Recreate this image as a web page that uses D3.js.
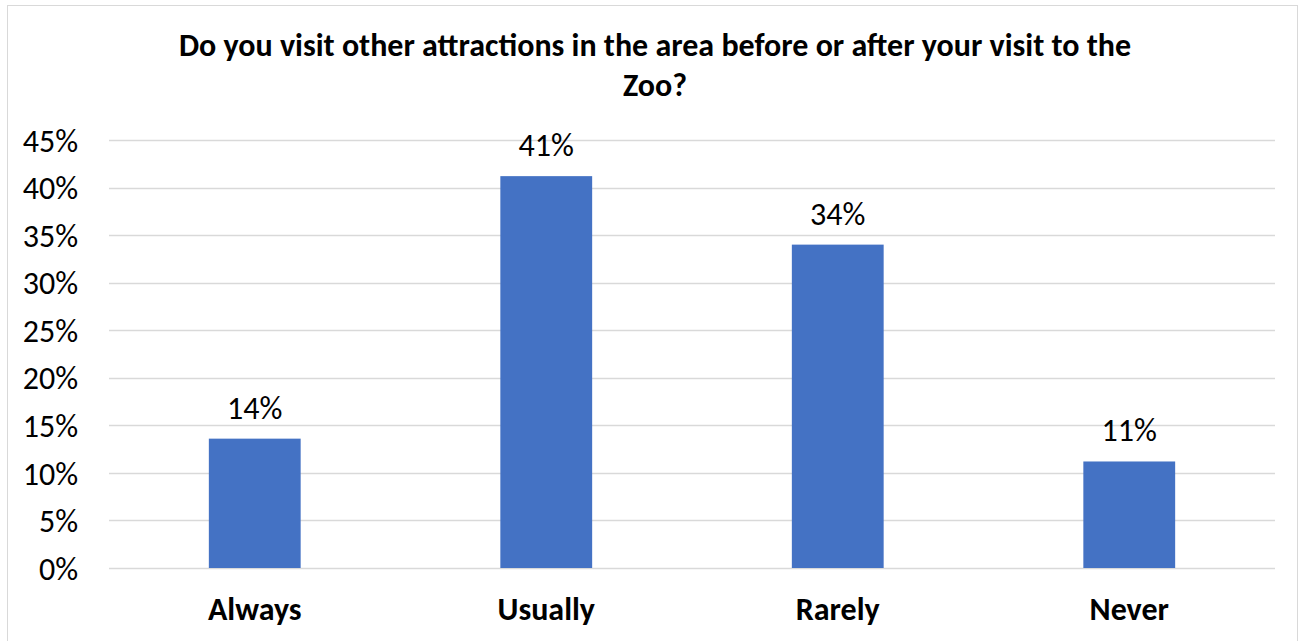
<!DOCTYPE html>
<html>
<head>
<meta charset="utf-8">
<script src="https://cdn.jsdelivr.net/npm/d3@7"></script>
<style>
  html, body { margin: 0; padding: 0; background: #fff; }
  svg { display: block; }
</style>
</head>
<body>
<svg id="chart" width="1304" height="641"></svg>
<script>
const categories = ["Always", "Usually", "Rarely", "Never"];
const values = [0.136, 0.412, 0.340, 0.112];
const tickValues = [0, 0.05, 0.10, 0.15, 0.20, 0.25, 0.30, 0.35, 0.40, 0.45];
const titleLines = ["Do you visit other attractions in the area before or after your visit to the", "Zoo?"];

const W = 1304, H = 641;
const FONT = "Carlito, Calibri, Lato, 'Open Sans', sans-serif";
const FS = 32;
const margin = { left: 109, right: 1275, top: 140, bottom: 568 };

const svg = d3.select("#chart");

svg.append("rect")
  .attr("x", 7.5).attr("y", 5.5)
  .attr("width", 1290).attr("height", 640)
  .attr("fill", "#fff").attr("stroke", "#d9d9d9").attr("stroke-width", 1);

const x = d3.scaleBand()
  .domain(categories)
  .range([margin.left, margin.right])
  .paddingInner(0.685).paddingOuter(0.3425);

const y = d3.scaleLinear()
  .domain([0, 0.45])
  .range([margin.bottom, margin.top]);

// gridlines
svg.append("g")
  .selectAll("line")
  .data(tickValues)
  .join("line")
  .attr("x1", margin.left).attr("x2", margin.right)
  .attr("y1", d => Math.round(y(d)) + 0.5).attr("y2", d => Math.round(y(d)) + 0.5)
  .attr("stroke", "#d9d9d9").attr("stroke-width", 1.5);

// y axis
const yAxis = d3.axisLeft(y).tickValues(tickValues).tickFormat(d3.format(".0%")).tickSize(0).tickPadding(31);
const gy = svg.append("g").attr("transform", `translate(${margin.left},0)`).call(yAxis);
gy.select(".domain").remove();
gy.selectAll("text")
  .attr("font-family", FONT).attr("font-size", FS).attr("fill", "#000")
  .attr("dy", "0.35em");

// x axis
const xAxis = d3.axisBottom(x).tickSize(0).tickPadding(0);
const gx = svg.append("g").attr("transform", `translate(0,${margin.bottom})`).call(xAxis);
gx.select(".domain").remove();
gx.selectAll("text")
  .attr("font-family", FONT).attr("font-size", FS).attr("font-weight", "bold").attr("fill", "#000")
  .attr("y", 52).attr("dy", 0);

// bars
svg.append("g")
  .selectAll("rect")
  .data(values)
  .join("rect")
  .attr("x", (d, i) => x(categories[i]))
  .attr("width", x.bandwidth())
  .attr("y", d => y(d))
  .attr("height", d => y(0) - y(d))
  .attr("fill", "#4472c4");

// data labels
svg.append("g")
  .selectAll("text")
  .data(values)
  .join("text")
  .attr("x", (d, i) => x(categories[i]) + x.bandwidth() / 2)
  .attr("y", d => y(d) - 20)
  .attr("text-anchor", "middle")
  .attr("font-family", FONT).attr("font-size", FS).attr("fill", "#000")
  .text(d => d3.format(".0%")(d));

// title
svg.append("g")
  .selectAll("text")
  .data(titleLines)
  .join("text")
  .attr("x", 655)
  .attr("y", (d, i) => 56 + i * 40)
  .attr("text-anchor", "middle")
  .attr("font-family", FONT).attr("font-size", FS).attr("font-weight", "bold").attr("fill", "#000")
  .text(d => d);
</script>
</body>
</html>
